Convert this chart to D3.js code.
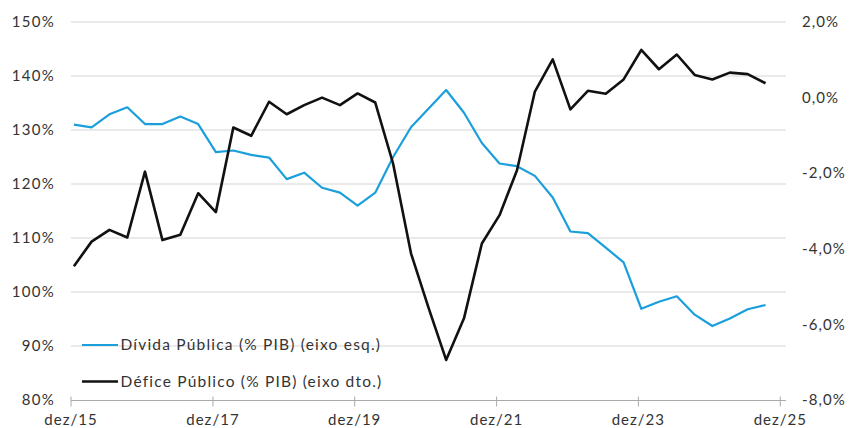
<!DOCTYPE html>
<html>
<head>
<meta charset="utf-8">
<script src="https://cdn.jsdelivr.net/npm/d3@7"></script>
<style>
  body { margin: 0; background: #fff; }
  svg text { font-family: Lato, "Noto Sans", sans-serif; fill: #333; }
</style>
</head>
<body>
<svg id="chart" width="852" height="428"></svg>
<script>
// quarter-end months (dez/15 .. set/25)
const quarters = [
  "2015-12", "2016-03", "2016-06", "2016-09", "2016-12", "2017-03", "2017-06", "2017-09",
  "2017-12", "2018-03", "2018-06", "2018-09", "2018-12", "2019-03", "2019-06", "2019-09",
  "2019-12", "2020-03", "2020-06", "2020-09", "2020-12", "2021-03", "2021-06", "2021-09",
  "2021-12", "2022-03", "2022-06", "2022-09", "2022-12", "2023-03", "2023-06", "2023-09",
  "2023-12", "2024-03", "2024-06", "2024-09", "2024-12", "2025-03", "2025-06", "2025-09"
];

// Dívida Pública (% PIB) - eixo esquerdo
const divida = [
  131.0, 130.5, 132.9, 134.2, 131.1, 131.1, 132.5, 131.1,
  125.9, 126.2, 125.4, 124.9, 120.9, 122.1, 119.3, 118.4,
  116.0, 118.4, 125.0, 130.5, 134.0, 137.4, 133.2, 127.6,
  123.8, 123.3, 121.5, 117.5, 111.2, 110.9, 108.2, 105.5,
  96.9, 98.2, 99.2, 95.8, 93.7, 95.1, 96.8, 97.6
];

// Défice Público (% PIB) - eixo direito
const defice = [
  -4.46, -3.81, -3.50, -3.70, -1.96, -3.77, -3.63, -2.53,
  -3.03, -0.79, -1.01, -0.11, -0.44, -0.20, 0.00, -0.20,
  0.11, -0.13, -1.75, -4.12, -5.57, -6.94, -5.84, -3.86,
  -3.11, -1.92, 0.16, 1.01, -0.31, 0.18, 0.10, 0.48,
  1.26, 0.75, 1.14, 0.60, 0.48, 0.66, 0.62, 0.38
];

const leftTicks = [80, 90, 100, 110, 120, 130, 140, 150];
const rightTicks = [-8, -6, -4, -2, 0, 2];
const xTickYears = [2015, 2017, 2019, 2021, 2023, 2025];

const series = [
  { name: "Dívida Pública (% PIB) (eixo esq.)", color: "#1b9fdc", width: 2.2 },
  { name: "Défice Público (% PIB) (eixo dto.)", color: "#111111", width: 2.6 }
];

const svg = d3.select("#chart");
const plotL = 71, plotR = 786, plotT = 22, plotB = 400;

const parseQ = s => {
  const [y, m] = s.split("-").map(Number);
  return new Date(y, m - 1, 16);
};
const dates = quarters.map(parseQ);

const x = d3.scaleTime()
  .domain([new Date(2015, 11, 1), new Date(2025, 11, 1)])
  .range([plotL, 780.3]);
const yL = d3.scaleLinear().domain([80, 150]).range([plotB, plotT]);
const yR = d3.scaleLinear().domain([-8, 2]).range([plotB, plotT]);

// pt-PT style numbers: comma decimal, plain hyphen for minus
const pt = d3.formatLocale({ decimal: ",", thousands: ".", grouping: [3], currency: ["", "€"], minus: "-" });
const fmtR = pt.format(".1f");

// gridlines
svg.append("g")
  .selectAll("line")
  .data(leftTicks.filter(d => d > 80))
  .join("line")
  .attr("x1", plotL).attr("x2", plotR)
  .attr("y1", d => yL(d)).attr("y2", d => yL(d))
  .attr("stroke", "#e3e3e3")
  .attr("stroke-width", 1.5);

// left axis labels
svg.append("g")
  .selectAll("text")
  .data(leftTicks)
  .join("text")
  .attr("x", 55)
  .attr("y", d => yL(d))
  .attr("dy", "0.35em")
  .attr("text-anchor", "end")
  .attr("font-size", 15)
  .attr("letter-spacing", 1.3)
  .text(d => d + "%");

// right axis labels
svg.append("g")
  .selectAll("text")
  .data(rightTicks)
  .join("text")
  .attr("x", 802)
  .attr("y", d => yR(d))
  .attr("dy", "0.35em")
  .attr("font-size", 15)
  .attr("letter-spacing", 1.1)
  .text(d => fmtR(d) + "%");

// x axis
const xAxis = svg.append("g");
xAxis.append("line")
  .attr("x1", plotL).attr("x2", plotR)
  .attr("y1", 400.5).attr("y2", 400.5)
  .attr("stroke", "#aaa").attr("stroke-width", 1.2);
const xt = xAxis.selectAll("g.tick")
  .data(xTickYears.map(yr => new Date(yr, 11, 1)))
  .join("g")
  .attr("transform", d => `translate(${x(d)},0)`);
xt.append("line")
  .attr("y1", 396.5).attr("y2", 406.5)
  .attr("stroke", "#aaa").attr("stroke-width", 1);
xt.append("text")
  .attr("y", 420)
  .attr("dy", "0.35em")
  .attr("text-anchor", "middle")
  .attr("font-size", 15)
  .attr("letter-spacing", 1)
  .text(d => "dez/" + String(d.getFullYear()).slice(2));

// lines
const lineL = d3.line().x((d, i) => x(dates[i])).y(d => yL(d));
const lineR = d3.line().x((d, i) => x(dates[i])).y(d => yR(d));

svg.append("path")
  .datum(divida)
  .attr("fill", "none")
  .attr("stroke", series[0].color)
  .attr("stroke-width", series[0].width)
  .attr("stroke-linejoin", "round")
  .attr("d", lineL);

svg.append("path")
  .datum(defice)
  .attr("fill", "none")
  .attr("stroke", series[1].color)
  .attr("stroke-width", series[1].width)
  .attr("stroke-linejoin", "round")
  .attr("d", lineR);

// legend
const legend = svg.append("g")
  .selectAll("g")
  .data(series)
  .join("g")
  .attr("transform", (d, i) => `translate(82,${345 + i * 36.5})`);
legend.append("line")
  .attr("x1", 0).attr("x2", 36)
  .attr("stroke", d => d.color)
  .attr("stroke-width", d => d.width);
legend.append("text")
  .attr("x", 38.5)
  .attr("dy", "0.35em")
  .attr("font-size", 15.5)
  .attr("letter-spacing", 1.2)
  .text(d => d.name);
</script>
</body>
</html>
